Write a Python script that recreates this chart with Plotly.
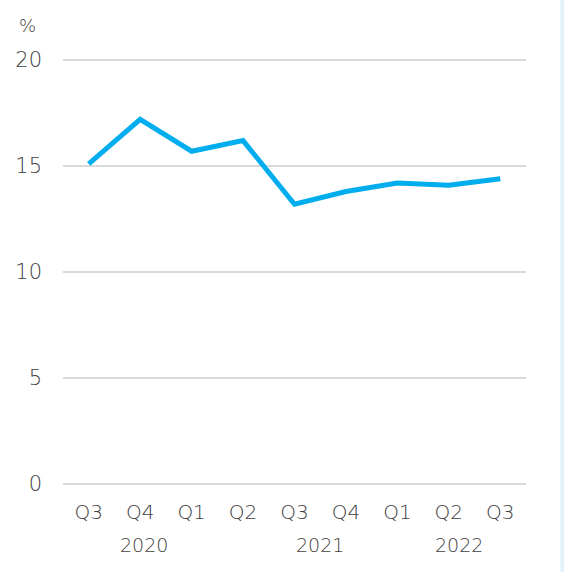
import plotly.graph_objects as go

quarters = ["Q3", "Q4", "Q1", "Q2", "Q3", "Q4", "Q1", "Q2", "Q3"]
values = [15.1, 17.2, 15.7, 16.2, 13.2, 13.8, 14.2, 14.1, 14.4]
years = ["2020", "2021", "2022"]
year_pos = [1.07, 4.5, 7.2]
y_ticks = [0, 5, 10, 15, 20]

W, H = 564, 572
PAD = 0.1
ML, MR, MT, MB = 63, 38, 58, 86
FONT = "'DejaVu Sans', sans-serif"
TXT = "#404040"
WT = 300
pw, ph = W - ML - MR, H - MT - MB

idx = list(range(len(quarters)))
fig = go.Figure(go.Scatter(
    x=idx, y=values, mode="lines",
    line=dict(color="#00ADEF", width=5),
    hoverinfo="skip",
))

annotations = [
    dict(x=p, y=(H - MB - 545) / ph, xref="x", yref="paper", text=yr,
         showarrow=False, xanchor="center", yanchor="middle",
         font=dict(size=19, color=TXT, family=FONT, weight=WT))
    for p, yr in zip(year_pos, years)
]
annotations.append(dict(x=(27 - ML) / pw, y=(H - MB - 25) / ph,
                        xref="paper", yref="paper", text="%",
                        xanchor="center", yanchor="middle",
                        showarrow=False,
                        font=dict(size=18, color=TXT, family=FONT, weight=WT)))

fig.update_layout(
    width=W, height=H,
    margin=dict(l=ML, r=MR, t=MT, b=MB, autoexpand=False),
    paper_bgcolor="white", plot_bgcolor="white",
    showlegend=False,
    font=dict(family=FONT, color=TXT, size=19, weight=WT),
    xaxis=dict(
        tickmode="array", tickvals=idx, ticktext=quarters,
        range=[-0.5, len(quarters) - 0.5],
        showgrid=False, zeroline=False, showline=False,
        ticks="", ticklabelstandoff=12, automargin=False,
        tickfont=dict(size=20, color=TXT, family=FONT, weight=WT),
        fixedrange=True,
    ),
    yaxis=dict(
        tickmode="array", tickvals=y_ticks,
        range=[-PAD, 20 + PAD],
        showgrid=True, gridcolor="#D9D9D9", gridwidth=1.5,
        zeroline=False, showline=False, ticks="",
        ticklabelstandoff=20, automargin=False,
        tickfont=dict(size=21, color=TXT, family=FONT, weight=WT),
        fixedrange=True,
    ),
    annotations=annotations,
    shapes=[dict(type="rect", xref="paper", yref="paper",
                 x0=(560.5 - ML) / pw, x1=(W + 2 - ML) / pw,
                 y0=-MB / ph - 0.01, y1=1 + MT / ph + 0.01,
                 fillcolor="#E3F1FB", line=dict(width=0), layer="below")],
)

fig.write_html("out.html", config={"displayModeBar": False},
               post_script="document.body.style.margin='0px';")
